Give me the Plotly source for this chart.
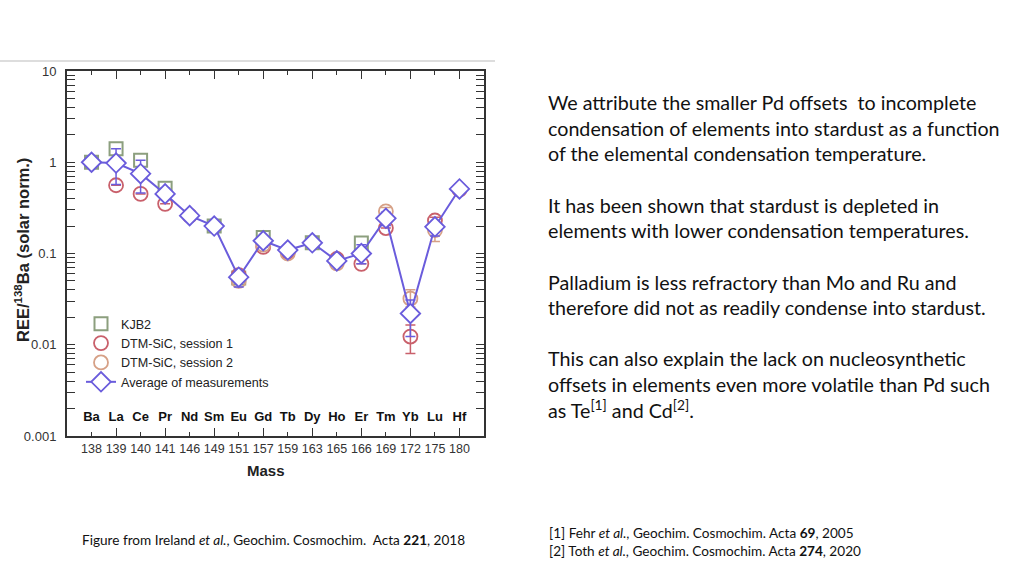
import plotly.graph_objects as go

elements = ["Ba", "La", "Ce", "Pr", "Nd", "Sm", "Eu", "Gd", "Tb", "Dy", "Ho", "Er", "Tm", "Yb", "Lu", "Hf"]
masses = ["138", "139", "140", "141", "146", "149", "151", "157", "159", "163", "165", "166", "169", "172", "175", "180"]

kjb2 = [1.0, 1.41, 1.05, 0.52, None, 0.20, 0.054, 0.15, None, 0.131, None, 0.13, None, None, None, None]
session1 = [None, 0.56, 0.45, 0.35, 0.26, None, 0.058, 0.118, 0.105, None, 0.087, 0.077, 0.19, 0.0123, 0.23, 0.50]
session2 = [None, None, None, None, None, None, 0.050, 0.125, 0.100, None, 0.078, None, 0.29, 0.032, 0.18, None]
s1_plus = [0, 0, 0, 0, 0, 0, 0.006, 0, 0, 0, 0, 0, 0, 0.0042, 0.02, 0]
s1_minus = [0, 0, 0, 0, 0, 0, 0.006, 0, 0, 0, 0, 0, 0, 0.0043, 0.02, 0]
s2_plus = [0, 0, 0, 0, 0, 0, 0, 0, 0, 0, 0, 0, 0.03, 0.008, 0.02, 0]
s2_minus = [0, 0, 0, 0, 0, 0, 0, 0, 0, 0, 0, 0, 0.03, 0.006, 0.045, 0]

average = [1.0, 0.98, 0.75, 0.45, 0.26, 0.20, 0.055, 0.138, 0.109, 0.131, 0.083, 0.10, 0.243, 0.022, 0.196, 0.51]
avg_plus = [0, 0.43, 0.30, 0.07, 0, 0, 0.006, 0.01, 0, 0, 0, 0.025, 0.04, 0.009, 0.02, 0]
avg_minus = [0, 0.41, 0.29, 0.06, 0, 0, 0.012, 0.01, 0, 0, 0, 0.023, 0.04, 0.0097, 0.04, 0]

label_level = 0.00159
ytick_vals = [0.001, 0.01, 0.1, 1, 10]
ytick_text = ["0.001", "0.01", "0.1", "1", "10"]

xs = list(range(len(elements)))
long_tick_positions = xs[1::2]

C_KJB = "#8c9f7e"
C_S1 = "#c9606b"
C_S2 = "#d6a086"
C_AVG = "#6a5cdc"
AX = "#333333"
FONT = "Liberation Sans, Arial, sans-serif"
TXT = "Lato, Open Sans, sans-serif"

L, R, T, B = 67, 484, 71, 436
W, H = 1024, 576


def px(x):
    return (x - L) / (R - L)


def py(y):
    return (B - y) / (B - T)


fig = go.Figure()

fig.add_trace(go.Scatter(
    x=xs, y=kjb2, mode="markers", name="KJB2",
    marker=dict(symbol="square-open", size=13, color=C_KJB, line=dict(width=2, color=C_KJB)),
))
fig.add_trace(go.Scatter(
    x=xs, y=session1, mode="markers", name="DTM-SiC, session 1",
    marker=dict(symbol="circle-open", size=14, color=C_S1, line=dict(width=1.8, color=C_S1)),
    error_y=dict(type="data", array=s1_plus, arrayminus=s1_minus, color=C_S1, thickness=1.5, width=5),
))
fig.add_trace(go.Scatter(
    x=xs, y=session2, mode="markers", name="DTM-SiC, session 2",
    marker=dict(symbol="circle-open", size=14, color=C_S2, line=dict(width=1.8, color=C_S2)),
    error_y=dict(type="data", array=s2_plus, arrayminus=s2_minus, color=C_S2, thickness=1.5, width=5),
))
fig.add_trace(go.Scatter(
    x=xs, y=average, mode="lines+markers", name="Average of measurements",
    line=dict(color=C_AVG, width=2),
    marker=dict(symbol="diamond", size=15, color="white", line=dict(width=1.8, color=C_AVG)),
    error_y=dict(type="data", array=avg_plus, arrayminus=avg_minus, color=C_AVG, thickness=1.5, width=5),
))
fig.add_trace(go.Scatter(
    x=xs, y=[label_level] * len(xs), mode="text", xaxis="x2",
    text=["<b>%s</b>" % e for e in elements],
    textfont=dict(family=FONT, size=13, color="#111"),
    showlegend=False, hoverinfo="skip",
))

fig.update_layout(
    width=W, height=H,
    margin=dict(l=L, r=W - R, t=T, b=H - B),
    paper_bgcolor="white", plot_bgcolor="white",
    font=dict(family=FONT, color=AX),
    showlegend=True,
    legend=dict(
        x=px(81), y=py(309), xanchor="left", yanchor="top",
        bgcolor="rgba(0,0,0,0)", font=dict(family=FONT, size=12.6, color="#222"),
        tracegroupgap=0, itemwidth=30,
    ),
    xaxis=dict(
        range=[-1, 16], tickmode="array", tickvals=xs, ticktext=masses,
        ticks="inside", ticklen=4, tickwidth=1.2, tickcolor=AX,
        showline=True, linecolor=AX, linewidth=2, mirror="allticks",
        showgrid=False, zeroline=False,
        tickfont=dict(family=FONT, size=12.5, color="#333"),
    ),
    xaxis2=dict(
        overlaying="x", matches="x", side="bottom",
        tickmode="array", tickvals=long_tick_positions, showticklabels=False,
        ticks="inside", ticklen=8, tickwidth=1.2, tickcolor=AX,
        showline=False, mirror="allticks", showgrid=False, zeroline=False,
    ),
    yaxis=dict(
        type="log", range=[-3, 1], tickmode="array", tickvals=ytick_vals, ticktext=ytick_text,
        ticks="inside", ticklen=8, tickwidth=1.2, tickcolor=AX, ticklabelstandoff=6,
        minor=dict(ticks="inside", ticklen=4, tickcolor=AX, tickwidth=1, showgrid=False, dtick="D1"),
        showline=True, linecolor=AX, linewidth=2, mirror="allticks",
        showgrid=False, zeroline=False,
        tickfont=dict(family=FONT, size=13, color="#333"),
    ),
)

# axis titles placed precisely
fig.add_annotation(x=px(22), y=py(250), xref="paper", yref="paper", textangle=-90,
                   text="<b>REE/<sup>138</sup>Ba (solar norm.)</b>", showarrow=False,
                   xanchor="center", yanchor="middle", font=dict(family=FONT, size=16.5, color="#222"))
fig.add_annotation(x=px(266), y=py(470), xref="paper", yref="paper",
                   text="<b>Mass</b>", showarrow=False,
                   xanchor="center", yanchor="middle", font=dict(family=FONT, size=15, color="#222"))

# dashed reference line at 1 (log10(1) = 0 in shape coordinates)
fig.add_shape(type="line", xref="paper", yref="y", x0=0, x1=1, y0=0, y1=0,
              line=dict(color="#333", width=1.5, dash="dash"))
# top border of figure image
fig.add_shape(type="line", xref="paper", yref="paper", x0=px(0), x1=px(495), y0=py(61), y1=py(61),
              line=dict(color="#bbbbbb", width=1.2))

right_lines = [
    (102, "We attribute the smaller Pd offsets  to incomplete"),
    (128, "condensation of elements into stardust as a function"),
    (153, "of the elemental condensation temperature."),
    (205, "It has been shown that stardust is depleted in"),
    (230, "elements with lower condensation temperatures."),
    (282, "Palladium is less refractory than Mo and Ru and"),
    (307, "therefore did not as readily condense into stardust."),
    (358, "This can also explain the lack on nucleosynthetic"),
    (384, "offsets in elements even more volatile than Pd such"),
    (409, "as Te<sup>[1]</sup> and Cd<sup>[2]</sup>."),
]
for y, t in right_lines:
    fig.add_annotation(x=px(546), y=py(y), xref="paper", yref="paper", text=t, showarrow=False,
                       xanchor="left", yanchor="middle", font=dict(family=TXT, size=19.7, color="#111"))

small = [
    (547, 533, "[1] Fehr <i>et al.</i>, Geochim. Cosmochim. Acta <b>69</b>, 2005"),
    (547, 551, "[2] Toth <i>et al.</i>, Geochim. Cosmochim. Acta <b>274</b>, 2020"),
    (80, 540, "Figure from Ireland <i>et al.</i>, Geochim. Cosmochim.  Acta <b>221</b>, 2018"),
]
for x, y, t in small:
    fig.add_annotation(x=px(x), y=py(y), xref="paper", yref="paper", text=t, showarrow=False,
                       xanchor="left", yanchor="middle", font=dict(family=TXT, size=13.6, color="#111"))

fig.write_html(
    "out.html",
    config={"displayModeBar": False},
    post_script="document.body.style.margin='0';document.body.style.overflow='hidden';",
)
